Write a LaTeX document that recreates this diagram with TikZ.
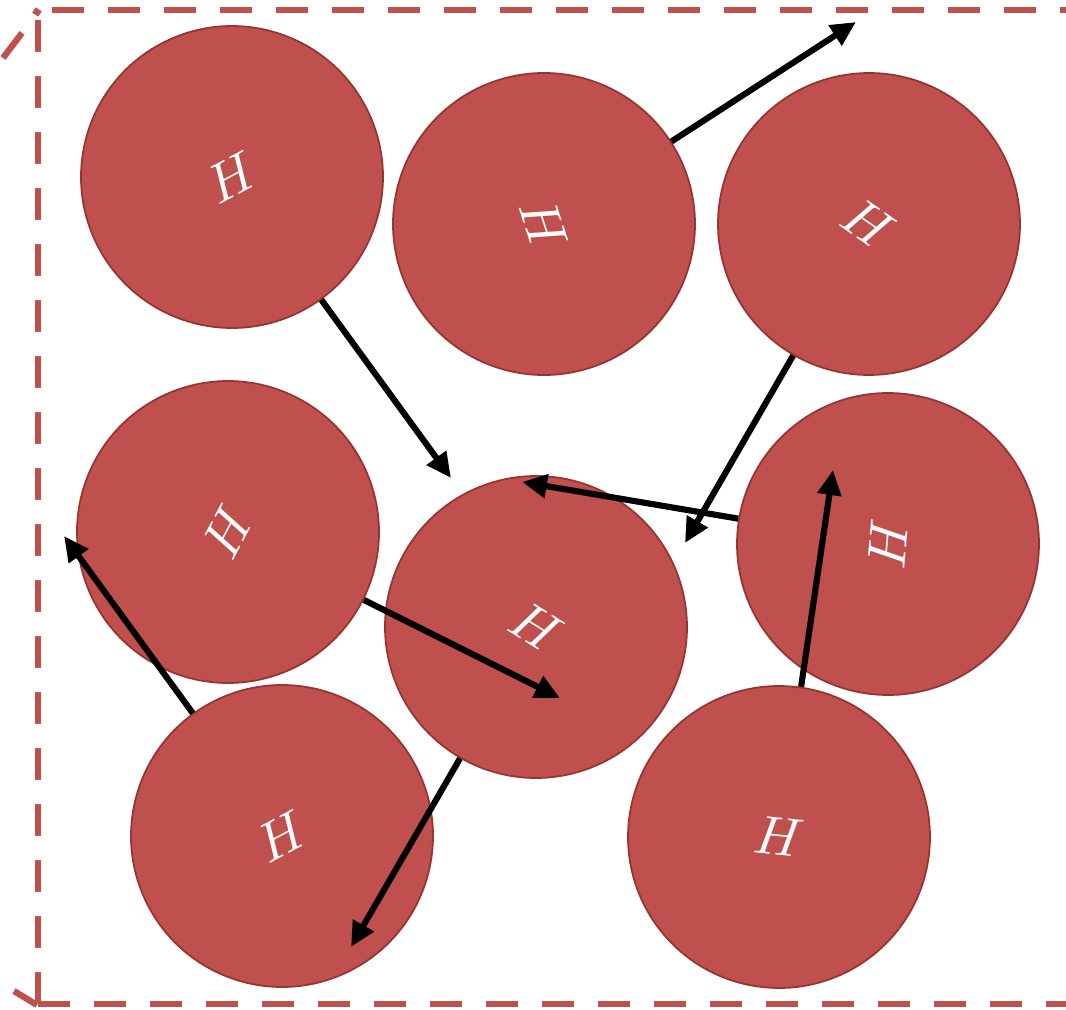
\documentclass[tikz,border=0pt]{standalone}
\usepackage{graphicx}
\usepackage{xcolor}
\usepackage{tikz}
\usetikzlibrary{arrows.meta, calc}

\definecolor{atomred}{RGB}{192,80,77}
\definecolor{atomedge}{RGB}{150,52,50}
\newcommand{\atomlabel}{\scalebox{3.1}{$H$}}

\begin{document}
\begin{tikzpicture}[x=0.02cm, y=-0.02cm,
    atom/.style={circle, draw=atomedge, fill=atomred, line width=1pt, minimum size=6.04cm, inner sep=0pt, text=white},
    arrow/.style={-{Triangle[length=0.5cm, width=0.46cm]}, line width=3.5pt, black},
    boxline/.style={draw=atomred, line width=3.6pt, dash pattern=on 0.64cm off 0.48cm},
    boxdash/.style={draw=atomred, line width=3.6pt}]

    \useasboundingbox (0,0) rectangle (1066,1010);

    % simulation box
    \begin{scope}
        \clip (0,0) rectangle (1066,1010);
        \draw [boxline] (38,1004) -- (38,10);
        \draw [boxline, dash phase=0.84cm] (38,10) -- (1120,10);
        \draw [boxline] (38,1004) -- (1120,1004);
        \draw [boxdash] (3,58) -- (22,33);
        \draw [boxdash] (34,10) -- (40,14);
        \draw [boxdash] (14,991) -- (37,1005);
    \end{scope}

    % atoms
    \node (tl) [atom, rotate=28] at (232,177) {\atomlabel};
    \node (tm) [atom, rotate=-72] at (544,224) {\atomlabel};
    \node (tr) [atom, rotate=-35] at (869,224) {\atomlabel};
    \node (ml) [atom, rotate=62] at (228,532) {\atomlabel};
    \node (mc) [atom, rotate=-32] at (536,627) {\atomlabel};
    \node (mr) [atom, rotate=85] at (888,544) {\atomlabel};
    \node (bl) [atom, rotate=28] at (282,836) {\atomlabel};
    \node (br) [atom, rotate=-6] at (779,837) {\atomlabel};

    % velocities
    \coordinate (vtl) at (451,478);
    \coordinate (vtm) at (856,22);
    \coordinate (vtr) at (685,543);
    \coordinate (vml) at (560,698);
    \coordinate (vmc) at (351,947);
    \coordinate (vmr) at (522,482);
    \coordinate (vbl) at (64,536);
    \coordinate (vbr) at (833,470);

    \draw [arrow] (tl) -- (vtl);
    \draw [arrow] (tm) -- (vtm);
    \draw [arrow] (tr) -- (vtr);
    \draw [arrow] (ml) -- (vml);
    \draw [arrow] (mc) -- (vmc);
    \draw [arrow] (mr) -- (vmr);
    \draw [arrow] (bl) -- (vbl);
    \draw [arrow] (br) -- (vbr);

\end{tikzpicture}
\end{document}
